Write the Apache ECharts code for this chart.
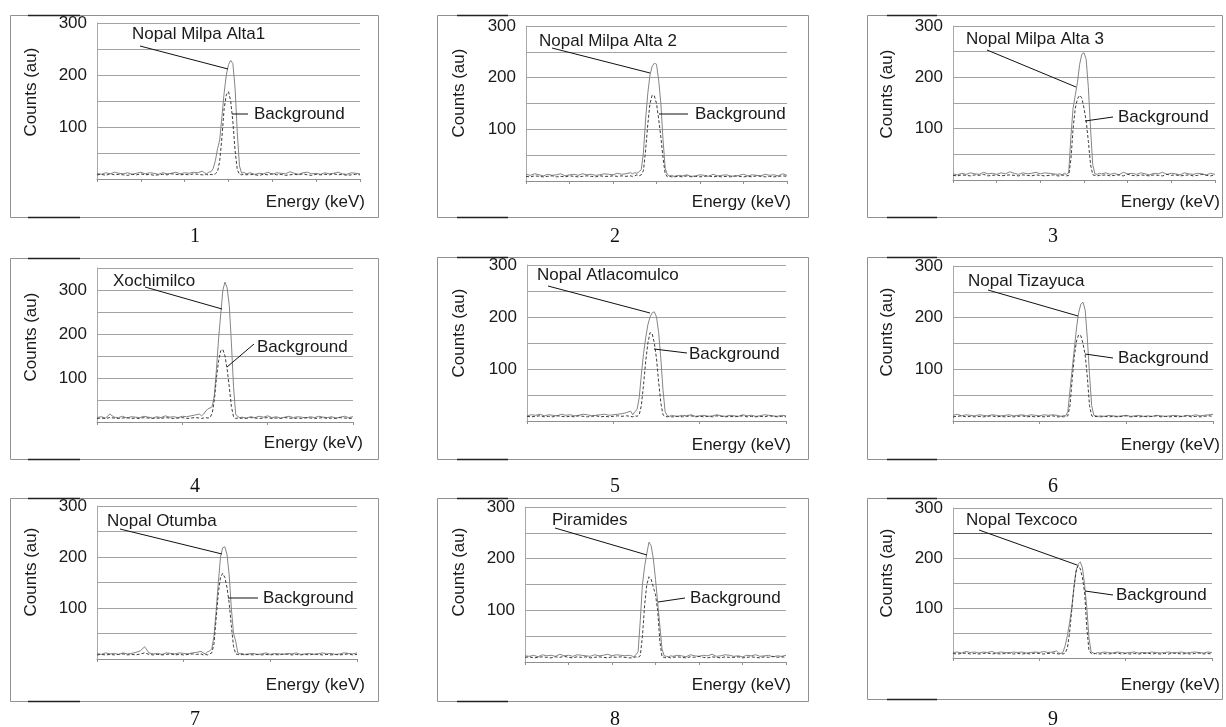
<!DOCTYPE html>
<html>
<head>
<meta charset="utf-8">
<script src="https://cdn.jsdelivr.net/npm/echarts@6/dist/echarts.min.js"></script>
<style>
html,body{margin:0;padding:0;background:#fff;}
#chart{width:1226px;height:727px;}
</style>
</head>
<body>
<div id="chart"></div>
<script>
// ---------- DATA ----------
const channels = [
  0,10,20,30,40, 50,60,70,80,90, 100,110,120,130,140, 150,160,170,180,190, 200,210,220,230,240,
  245,250,255,260,265, 270,275,280,285,290, 295,300,305,310,315, 320,325,330,335,
  340,350,360,370,380, 390,400,410,420,430, 440,450,460,470,480, 490,500,510,520,530, 540,550,560,570,580, 590,600
];
const sampleNames = ['Nopal Milpa Alta1','Nopal Milpa Alta 2','Nopal Milpa Alta 3','Xochimilco','Nopal Atlacomulco','Nopal Tizayuca','Nopal Otumba','Piramides','Nopal Texcoco'];
const backgroundName = 'Background';
const panelNumbers = ['1','2','3','4','5','6','7','8','9'];
const yTickLabels = [100, 200, 300];

const sample1 = [
  11,9,12,10,13, 11,10,12,9,11, 13,10,12,11,9, 12,10,11,13,10, 12,11,13,12,15,
  12,10,13,14,20, 35,58,75,120,165, 200,220,228,222,175, 90,25,11,13,
  10,12,9,11,10, 13,9,12,11,10, 14,11,9,12,13, 10,11,9,12,10, 11,13,10,9,12, 11,10
];
const background1 = [
  8,9,7,10,8, 9,8,7,9,8, 10,8,9,7,8, 9,8,10,9,8, 9,8,10,9,8,
  8,9,7,9,8, 10,14,35,80,135, 162,168,150,110,55, 18,9,8,9,
  8,9,8,7,9, 8,10,8,9,7, 8,9,8,10,8, 7,9,8,9,8, 10,8,9,7,8, 9,8
];
const sample2 = [
  13,11,14,12,10, 13,11,12,14,10, 12,13,11,14,12, 13,11,12,14,13, 12,15,13,14,16,
  14,16,15,18,22, 55,120,170,205,222, 228,226,195,150,80, 25,12,10,11,
  9,11,10,12,9, 10,12,11,9,13, 10,11,12,10,9, 11,13,10,12,11, 10,13,11,12,10, 14,11
];
const background2 = [
  9,8,10,9,8, 9,10,8,9,8, 10,9,8,9,10, 9,8,10,9,9, 10,9,10,9,10,
  9,10,12,10,12, 20,60,110,150,166, 165,150,120,85,45, 14,8,9,8,
  8,9,8,10,8, 9,8,9,10,8, 9,8,9,8,10, 9,8,9,8,10, 9,8,9,8,9, 10,9
];
const sample3 = [
  12,10,13,11,14, 12,11,15,12,13, 11,14,12,16,13, 11,14,12,13,15, 12,14,13,12,11,
  12,10,13,11,14, 85,140,165,190,225, 245,248,235,180,100, 30,12,11,13,
  12,14,11,13,10, 15,12,13,11,14, 12,10,13,12,15, 11,13,12,10,14, 12,11,13,12,10, 13,11
];
const background3 = [
  9,8,10,9,8, 10,9,11,8,9, 10,8,9,10,9, 8,10,9,8,10, 9,8,9,10,8,
  8,9,10,8,9, 40,100,140,158,165, 160,140,115,75,30, 10,9,8,9,
  9,10,8,9,10, 8,11,9,8,10, 9,8,10,9,8, 11,9,10,8,9, 10,8,9,11,9, 8,10
];
const sample4 = [
  10,12,9,18,11, 10,13,9,12,11, 10,13,11,9,12, 10,14,11,12,10, 13,12,14,16,18,
  14,18,25,30,32, 35,60,120,190,245, 300,318,305,265,180, 80,18,12,10,
  11,9,12,10,13, 11,14,10,12,9, 11,13,10,12,11, 9,12,10,13,11, 10,12,9,11,13, 10,12
];
const background4 = [
  8,9,8,10,9, 8,9,10,8,9, 8,10,9,8,9, 8,10,9,8,9, 10,8,9,10,9,
  8,9,10,9,10, 20,50,100,140,162, 165,150,120,80,35, 12,8,9,8,
  9,8,10,9,8, 9,10,8,9,8, 10,9,8,9,8, 10,9,8,9,10, 8,9,8,10,9, 8,9
];
const sample5 = [
  10,12,11,13,10, 12,11,10,13,11, 12,10,11,13,12, 10,11,12,13,11, 12,13,14,16,19,
  12,18,22,45,90, 130,160,185,200,208, 210,200,170,120,60, 18,10,9,11,
  10,9,11,10,12, 9,10,11,9,10, 12,10,9,11,10, 9,12,10,11,9, 10,12,11,10,9, 11,10
];
const background5 = [
  9,8,9,10,8, 9,8,10,9,8, 9,8,10,9,8, 9,10,8,9,8, 9,10,9,10,9,
  8,10,9,12,30, 70,115,150,170,168, 150,120,75,35,12, 9,8,9,8,
  8,9,8,9,10, 8,9,8,9,8, 10,9,8,9,8, 9,10,8,9,8, 9,8,10,9,8, 9,8
];
const sample6 = [
  11,13,10,12,11, 10,12,11,10,12, 11,10,11,12,10, 11,12,10,12,11, 10,12,11,12,11,
  10,9,11,10,18, 60,100,140,180,210, 226,230,215,160,90, 30,11,10,9,
  10,9,11,10,9, 10,11,9,10,11, 9,10,9,11,10, 9,10,11,10,9, 11,10,12,10,11, 12,13
];
const background6 = [
  8,9,10,8,9, 8,9,8,9,10, 8,9,8,9,8, 9,10,8,9,8, 9,8,9,10,8,
  8,9,8,9,10, 30,80,125,155,167, 165,150,128,85,30, 10,8,9,8,
  8,9,8,9,8, 9,10,8,9,8, 9,8,9,10,8, 9,8,9,8,9, 10,8,9,8,9, 10,9
];
const sample7 = [
  11,9,12,10,11, 9,12,10,11,13, 16,24,12,10,11, 9,12,11,10,12, 11,10,12,13,15,
  12,10,14,16,20, 45,95,150,200,218, 220,205,165,100,50, 35,12,10,11,
  9,10,11,9,10, 12,9,11,10,9, 11,10,12,9,10, 11,9,10,12,10, 11,9,10,12,11, 10,12
];
const background7 = [
  8,9,8,9,8, 9,10,8,9,8, 10,12,9,8,9, 8,9,10,8,9, 8,9,10,9,10,
  8,9,8,10,12, 30,80,130,160,168, 160,140,110,65,25, 10,9,8,9,
  8,9,8,9,8, 9,8,9,8,10, 9,8,9,8,9, 8,10,9,8,9, 8,9,8,9,10, 8,9
];
const sample8 = [
  12,11,13,10,14, 12,13,11,15,12, 13,11,14,13,12, 11,14,12,13,15, 12,14,13,12,13,
  12,10,14,20,80, 150,185,210,232,225, 200,160,115,70,25, 12,11,10,12,
  11,13,12,10,14, 12,11,13,12,15, 11,12,14,13,11, 12,10,13,12,14, 11,12,13,10,12, 11,13
];
const background8 = [
  9,10,8,9,10, 9,8,10,9,11, 9,8,10,9,10, 8,9,10,9,8, 10,9,10,9,8,
  8,9,10,9,12, 50,110,150,165,160, 145,130,100,40,10, 9,8,9,8,
  9,10,9,8,10, 9,11,9,8,10, 9,8,10,9,9, 10,8,9,10,9, 8,10,9,11,9, 10,9
];
const sample9 = [
  11,12,10,13,11, 12,10,12,11,13, 10,12,11,10,12, 11,12,10,11,12, 11,13,11,12,14,
  10,9,12,25,45, 70,100,140,175,188, 192,180,145,100,40, 12,10,9,11,
  10,12,11,10,12, 11,10,11,12,10, 11,10,12,11,10, 11,12,10,11,12, 10,11,12,11,10, 12,11
];
const background9 = [
  9,8,9,10,8, 9,8,9,10,8, 9,8,9,10,8, 9,8,9,8,10, 9,8,9,10,9,
  8,9,8,10,20, 50,95,140,172,185, 178,160,130,60,15, 9,8,9,8,
  8,9,8,9,10, 8,9,8,9,8, 9,10,8,9,8, 9,8,10,9,8, 9,8,9,10,8, 9,8
];
const samples = [sample1,sample2,sample3,sample4,sample5,sample6,sample7,sample8,sample9];
const backgrounds = [background1,background2,background3,background4,background5,background6,background7,background8,background9];
const yMaxes = [300,300,300,350,300,300,300,300,300];
const xTickIntervals = [100,100,100,200,200,200,200,100,200];

// ---------- LAYOUT ----------
const layout = [
  {box:[10,15,368,202],  grid:[97,23,263,156],  counts:[31,92],   energy:[365,202],  num:[195,237],  name:[132,34],  nl:[140,46,228,69],   bg:[254,114],  bl:[232,114,248,114], dark:[28,80]},
  {box:[437,15,371,202], grid:[526,26,261,155], counts:[459,93],  energy:[791,202],  num:[615,237],  name:[539,41],  nl:[552,48,650,73],   bg:[695,114],  bl:[659,114,688,114], dark:[457,508]},
  {box:[867,15,355,202], grid:[953,26,262,154], counts:[887,94],  energy:[1220,202], num:[1053,237], name:[966,39],  nl:[987,50,1076,87],  bg:[1118,117], bl:[1085,121,1113,117], dark:[887,937]},
  {box:[10,258,368,201], grid:[97,268,256,154], counts:[31,337],  energy:[363,443],  num:[195,487],  name:[113,281], nl:[145,287,222,309], bg:[257,347],  bl:[227,367,254,344], dark:[28,80]},
  {box:[437,257,371,202],grid:[527,265,259,156],counts:[459,333], energy:[791,445],  num:[615,487],  name:[537,275], nl:[548,286,650,313], bg:[689,354],  bl:[654,349,687,353], dark:[457,508]},
  {box:[867,257,355,202],grid:[953,266,260,155],counts:[887,332], energy:[1220,445], num:[1053,487], name:[968,281], nl:[988,290,1078,316], bg:[1118,358], bl:[1085,354,1113,358], dark:[887,937]},
  {box:[10,498,368,203], grid:[97,506,260,153], counts:[31,572],  energy:[365,685],  num:[195,720],  name:[107,521], nl:[120,529,222,554], bg:[263,598],  bl:[228,598,258,598], dark:[28,80]},
  {box:[437,498,371,203],grid:[525,507,261,155],counts:[459,572], energy:[791,685],  num:[615,720],  name:[552,520], nl:[555,528,647,555], bg:[690,598],  bl:[658,602,685,598], dark:[457,508]},
  {box:[867,498,355,201],grid:[953,508,259,150],counts:[887,573], energy:[1220,685], num:[1053,720], name:[966,520], nl:[979,530,1077,565], bg:[1116,595], bl:[1085,591,1113,595], dark:[887,937]}
];

const FONT = '"Liberation Sans", Arial, Helvetica, sans-serif';
const TXT = '#1a1a1a';
const GRIDC = '#a3a3a3';

const grids = [], xAxes = [], yAxes = [], series = [], graphics = [];

layout.forEach((L, i) => {
  grids.push({left:L.grid[0], top:L.grid[1], width:L.grid[2], height:L.grid[3], containLabel:false});
  xAxes.push({
    type:'value', gridIndex:i, min:0, max:600, interval:xTickIntervals[i],
    axisLine:{show:true, onZero:false, lineStyle:{color:'#8f8f8f', width:1}},
    axisTick:{show:true, length:3, inside:false, lineStyle:{color:'#8f8f8f'}},
    axisLabel:{show:false}, splitLine:{show:false}
  });
  const splitColors = [];
  for (let v = 0; v <= yMaxes[i]; v += 50) splitColors.push(i === 8 && v === 250 ? '#5a5a5a' : GRIDC);
  yAxes.push({
    type:'value', gridIndex:i, min:0, max:yMaxes[i], interval:50,
    axisLine:{show:true, lineStyle:{color:'#a8a8a8', width:1}},
    axisTick:{show:false},
    axisLabel:{show:true, margin:10, fontSize:17, fontFamily:FONT, color:TXT,
      formatter: v => (yTickLabels.indexOf(v) >= 0 ? String(v) : '')},
    splitLine:{show:true, lineStyle:{color:splitColors, width:1}}
  });
  series.push({
    name:sampleNames[i], type:'line', xAxisIndex:i, yAxisIndex:i,
    data: channels.map((c, k) => [c, samples[i][k]]),
    showSymbol:false, symbol:'none', silent:true, z:2,
    lineStyle:{color:'#858585', width:1}
  });
  series.push({
    name:backgroundName, type:'line', xAxisIndex:i, yAxisIndex:i,
    data: channels.map((c, k) => [c, backgrounds[i][k]]),
    showSymbol:false, symbol:'none', silent:true, z:3,
    lineStyle:{color:'#3c3c3c', width:1, type:[3,2]}
  });

  // frame
  graphics.push({type:'rect', shape:{x:L.box[0]+0.5, y:L.box[1]+0.5, width:L.box[2], height:L.box[3]},
    style:{fill:null, stroke:'#909090', lineWidth:1}, z:1});
  graphics.push({type:'line', shape:{x1:L.dark[0], y1:L.box[1]+0.5, x2:L.dark[1], y2:L.box[1]+0.5},
    style:{stroke:'#222', lineWidth:1.5}, z:2});
  graphics.push({type:'line', shape:{x1:L.dark[0], y1:L.box[1]+L.box[3]+0.5, x2:L.dark[1], y2:L.box[1]+L.box[3]+0.5},
    style:{stroke:'#222', lineWidth:1.5}, z:2});
  // axis titles
  graphics.push({type:'text', x:L.counts[0], y:L.counts[1], rotation:Math.PI/2,
    style:{text:'Counts (au)', font:'17px ' + FONT, fill:TXT, align:'center', verticalAlign:'middle', textAlign:'center', textVerticalAlign:'middle'}, z:5});
  graphics.push({type:'text', x:L.energy[0], y:L.energy[1],
    style:{text:'Energy (keV)', font:'17px ' + FONT, fill:TXT, align:'right', verticalAlign:'middle', textAlign:'right', textVerticalAlign:'middle'}, z:5});
  // annotations
  graphics.push({type:'text', x:L.name[0], y:L.name[1],
    style:{text:sampleNames[i], font:'17px ' + FONT, fill:TXT, align:'left', verticalAlign:'middle', textAlign:'left', textVerticalAlign:'middle'}, z:6});
  graphics.push({type:'line', shape:{x1:L.nl[0], y1:L.nl[1], x2:L.nl[2], y2:L.nl[3]},
    style:{stroke:'#111', lineWidth:1}, z:6});
  graphics.push({type:'text', x:L.bg[0], y:L.bg[1],
    style:{text:backgroundName, font:'17px ' + FONT, fill:TXT, align:'left', verticalAlign:'middle', textAlign:'left', textVerticalAlign:'middle'}, z:6});
  graphics.push({type:'line', shape:{x1:L.bl[0], y1:L.bl[1], x2:L.bl[2], y2:L.bl[3]},
    style:{stroke:'#111', lineWidth:1}, z:6});
  // panel number
  graphics.push({type:'text', x:L.num[0], y:L.num[1],
    style:{text:panelNumbers[i], font:'20px "Liberation Serif", "Times New Roman", serif', fill:'#111', align:'center', verticalAlign:'middle', textAlign:'center', textVerticalAlign:'middle'}, z:5});
});

const chart = echarts.init(document.getElementById('chart'), null, {renderer:'canvas'});
chart.setOption({
  animation:false,
  backgroundColor:'#ffffff',
  grid:grids, xAxis:xAxes, yAxis:yAxes, series:series,
  graphic:graphics
});
</script>
</body>
</html>
